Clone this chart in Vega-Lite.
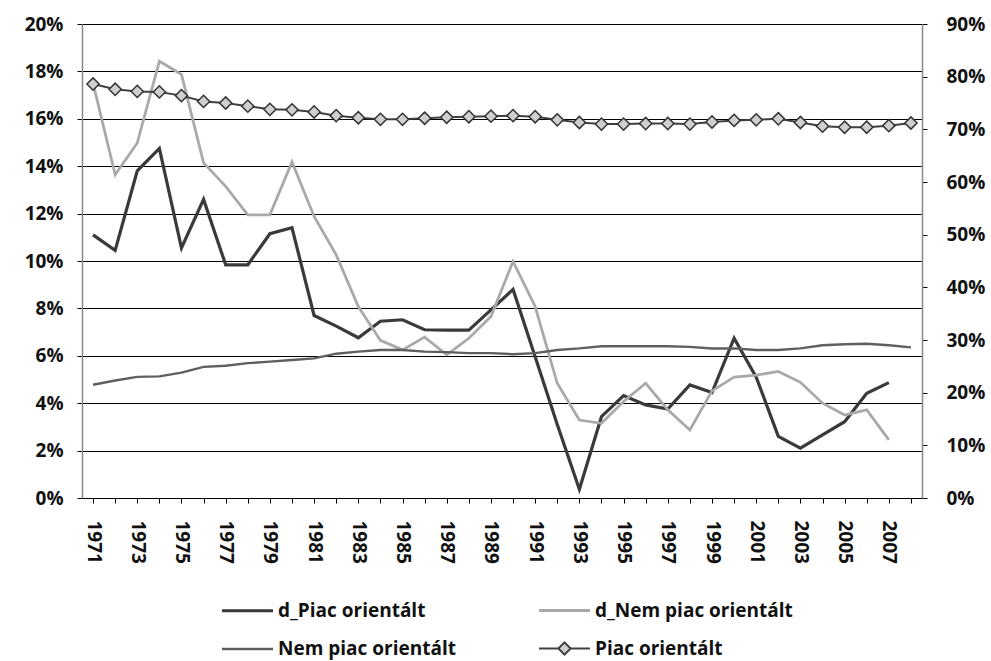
{
  "$schema": "https://vega.github.io/schema/vega-lite/v6.json",
  "width": 840,
  "height": 474,
  "autosize": {"type": "none"},
  "padding": {"left": 82, "top": 24, "right": 69, "bottom": 163},
  "background": "white",
  "config": {
    "view": {"stroke": null},
    "font": "Open Sans",
    "axis": {"labelFont": "Open Sans", "labelFontWeight": "bold", "labelFontSize": 19, "labelColor": "#111111"}
  },
  "datasets": {
    "diff": [
      {"year": 1971, "series": "d_Piac orientált", "value": 11.1},
      {"year": 1972, "series": "d_Piac orientált", "value": 10.45},
      {"year": 1973, "series": "d_Piac orientált", "value": 13.8},
      {"year": 1974, "series": "d_Piac orientált", "value": 14.75},
      {"year": 1975, "series": "d_Piac orientált", "value": 10.55},
      {"year": 1976, "series": "d_Piac orientált", "value": 12.6},
      {"year": 1977, "series": "d_Piac orientált", "value": 9.84},
      {"year": 1978, "series": "d_Piac orientált", "value": 9.84},
      {"year": 1979, "series": "d_Piac orientált", "value": 11.15},
      {"year": 1980, "series": "d_Piac orientált", "value": 11.4},
      {"year": 1981, "series": "d_Piac orientált", "value": 7.7},
      {"year": 1982, "series": "d_Piac orientált", "value": 7.25},
      {"year": 1983, "series": "d_Piac orientált", "value": 6.76},
      {"year": 1984, "series": "d_Piac orientált", "value": 7.46},
      {"year": 1985, "series": "d_Piac orientált", "value": 7.52},
      {"year": 1986, "series": "d_Piac orientált", "value": 7.1},
      {"year": 1987, "series": "d_Piac orientált", "value": 7.08},
      {"year": 1988, "series": "d_Piac orientált", "value": 7.08},
      {"year": 1989, "series": "d_Piac orientált", "value": 7.94},
      {"year": 1990, "series": "d_Piac orientált", "value": 8.8},
      {"year": 1991, "series": "d_Piac orientált", "value": 5.96},
      {"year": 1992, "series": "d_Piac orientált", "value": 3.1},
      {"year": 1993, "series": "d_Piac orientált", "value": 0.37},
      {"year": 1994, "series": "d_Piac orientált", "value": 3.43},
      {"year": 1995, "series": "d_Piac orientált", "value": 4.32},
      {"year": 1996, "series": "d_Piac orientált", "value": 3.93},
      {"year": 1997, "series": "d_Piac orientált", "value": 3.75},
      {"year": 1998, "series": "d_Piac orientált", "value": 4.77},
      {"year": 1999, "series": "d_Piac orientált", "value": 4.45},
      {"year": 2000, "series": "d_Piac orientált", "value": 6.74},
      {"year": 2001, "series": "d_Piac orientált", "value": 5.1},
      {"year": 2002, "series": "d_Piac orientált", "value": 2.6},
      {"year": 2003, "series": "d_Piac orientált", "value": 2.1},
      {"year": 2004, "series": "d_Piac orientált", "value": 2.66},
      {"year": 2005, "series": "d_Piac orientált", "value": 3.22},
      {"year": 2006, "series": "d_Piac orientált", "value": 4.42},
      {"year": 2007, "series": "d_Piac orientált", "value": 4.87},
      {"year": 1971, "series": "d_Nem piac orientált", "value": 17.5},
      {"year": 1972, "series": "d_Nem piac orientált", "value": 13.64},
      {"year": 1973, "series": "d_Nem piac orientált", "value": 14.98},
      {"year": 1974, "series": "d_Nem piac orientált", "value": 18.43},
      {"year": 1975, "series": "d_Nem piac orientált", "value": 17.87},
      {"year": 1976, "series": "d_Nem piac orientált", "value": 14.14},
      {"year": 1977, "series": "d_Nem piac orientált", "value": 13.15},
      {"year": 1978, "series": "d_Nem piac orientált", "value": 11.95},
      {"year": 1979, "series": "d_Nem piac orientált", "value": 11.95},
      {"year": 1980, "series": "d_Nem piac orientált", "value": 14.18},
      {"year": 1981, "series": "d_Nem piac orientált", "value": 11.88},
      {"year": 1982, "series": "d_Nem piac orientált", "value": 10.26},
      {"year": 1983, "series": "d_Nem piac orientált", "value": 8.08},
      {"year": 1984, "series": "d_Nem piac orientált", "value": 6.65},
      {"year": 1985, "series": "d_Nem piac orientált", "value": 6.25},
      {"year": 1986, "series": "d_Nem piac orientált", "value": 6.79},
      {"year": 1987, "series": "d_Nem piac orientált", "value": 6.04},
      {"year": 1988, "series": "d_Nem piac orientált", "value": 6.74},
      {"year": 1989, "series": "d_Nem piac orientált", "value": 7.66},
      {"year": 1990, "series": "d_Nem piac orientált", "value": 9.98},
      {"year": 1991, "series": "d_Nem piac orientált", "value": 8.08},
      {"year": 1992, "series": "d_Nem piac orientált", "value": 4.84},
      {"year": 1993, "series": "d_Nem piac orientált", "value": 3.29},
      {"year": 1994, "series": "d_Nem piac orientált", "value": 3.15},
      {"year": 1995, "series": "d_Nem piac orientált", "value": 4.07},
      {"year": 1996, "series": "d_Nem piac orientált", "value": 4.84},
      {"year": 1997, "series": "d_Nem piac orientált", "value": 3.72},
      {"year": 1998, "series": "d_Nem piac orientált", "value": 2.87},
      {"year": 1999, "series": "d_Nem piac orientált", "value": 4.52},
      {"year": 2000, "series": "d_Nem piac orientált", "value": 5.1},
      {"year": 2001, "series": "d_Nem piac orientált", "value": 5.18},
      {"year": 2002, "series": "d_Nem piac orientált", "value": 5.34},
      {"year": 2003, "series": "d_Nem piac orientált", "value": 4.88},
      {"year": 2004, "series": "d_Nem piac orientált", "value": 4.0},
      {"year": 2005, "series": "d_Nem piac orientált", "value": 3.5},
      {"year": 2006, "series": "d_Nem piac orientált", "value": 3.72},
      {"year": 2007, "series": "d_Nem piac orientált", "value": 2.45}
    ],
    "level": [
      {"year": 1971, "series": "Nem piac orientált", "value": 21.5},
      {"year": 1972, "series": "Nem piac orientált", "value": 22.3},
      {"year": 1973, "series": "Nem piac orientált", "value": 23.0},
      {"year": 1974, "series": "Nem piac orientált", "value": 23.1},
      {"year": 1975, "series": "Nem piac orientált", "value": 23.8},
      {"year": 1976, "series": "Nem piac orientált", "value": 24.9},
      {"year": 1977, "series": "Nem piac orientált", "value": 25.1},
      {"year": 1978, "series": "Nem piac orientált", "value": 25.6},
      {"year": 1979, "series": "Nem piac orientált", "value": 25.9},
      {"year": 1980, "series": "Nem piac orientált", "value": 26.2},
      {"year": 1981, "series": "Nem piac orientált", "value": 26.5},
      {"year": 1982, "series": "Nem piac orientált", "value": 27.4},
      {"year": 1983, "series": "Nem piac orientált", "value": 27.8},
      {"year": 1984, "series": "Nem piac orientált", "value": 28.1},
      {"year": 1985, "series": "Nem piac orientált", "value": 28.1},
      {"year": 1986, "series": "Nem piac orientált", "value": 27.8},
      {"year": 1987, "series": "Nem piac orientált", "value": 27.7},
      {"year": 1988, "series": "Nem piac orientált", "value": 27.5},
      {"year": 1989, "series": "Nem piac orientált", "value": 27.5},
      {"year": 1990, "series": "Nem piac orientált", "value": 27.3},
      {"year": 1991, "series": "Nem piac orientált", "value": 27.5},
      {"year": 1992, "series": "Nem piac orientált", "value": 28.1},
      {"year": 1993, "series": "Nem piac orientált", "value": 28.4},
      {"year": 1994, "series": "Nem piac orientált", "value": 28.8},
      {"year": 1995, "series": "Nem piac orientált", "value": 28.8},
      {"year": 1996, "series": "Nem piac orientált", "value": 28.8},
      {"year": 1997, "series": "Nem piac orientált", "value": 28.8},
      {"year": 1998, "series": "Nem piac orientált", "value": 28.7},
      {"year": 1999, "series": "Nem piac orientált", "value": 28.4},
      {"year": 2000, "series": "Nem piac orientált", "value": 28.4},
      {"year": 2001, "series": "Nem piac orientált", "value": 28.1},
      {"year": 2002, "series": "Nem piac orientált", "value": 28.1},
      {"year": 2003, "series": "Nem piac orientált", "value": 28.4},
      {"year": 2004, "series": "Nem piac orientált", "value": 29.0},
      {"year": 2005, "series": "Nem piac orientált", "value": 29.2},
      {"year": 2006, "series": "Nem piac orientált", "value": 29.3},
      {"year": 2007, "series": "Nem piac orientált", "value": 29.0},
      {"year": 2008, "series": "Nem piac orientált", "value": 28.6},
      {"year": 1971, "series": "Piac orientált", "value": 78.6},
      {"year": 1972, "series": "Piac orientált", "value": 77.6},
      {"year": 1973, "series": "Piac orientált", "value": 77.2},
      {"year": 1974, "series": "Piac orientált", "value": 77.1},
      {"year": 1975, "series": "Piac orientált", "value": 76.4},
      {"year": 1976, "series": "Piac orientált", "value": 75.3},
      {"year": 1977, "series": "Piac orientált", "value": 75.0},
      {"year": 1978, "series": "Piac orientált", "value": 74.4},
      {"year": 1979, "series": "Piac orientált", "value": 73.8},
      {"year": 1980, "series": "Piac orientált", "value": 73.7},
      {"year": 1981, "series": "Piac orientált", "value": 73.3},
      {"year": 1982, "series": "Piac orientált", "value": 72.6},
      {"year": 1983, "series": "Piac orientált", "value": 72.2},
      {"year": 1984, "series": "Piac orientált", "value": 71.9},
      {"year": 1985, "series": "Piac orientált", "value": 71.9},
      {"year": 1986, "series": "Piac orientált", "value": 72.1},
      {"year": 1987, "series": "Piac orientált", "value": 72.3},
      {"year": 1988, "series": "Piac orientált", "value": 72.4},
      {"year": 1989, "series": "Piac orientált", "value": 72.5},
      {"year": 1990, "series": "Piac orientált", "value": 72.6},
      {"year": 1991, "series": "Piac orientált", "value": 72.4},
      {"year": 1992, "series": "Piac orientált", "value": 71.8},
      {"year": 1993, "series": "Piac orientált", "value": 71.3},
      {"year": 1994, "series": "Piac orientált", "value": 71.0},
      {"year": 1995, "series": "Piac orientált", "value": 71.0},
      {"year": 1996, "series": "Piac orientált", "value": 71.1},
      {"year": 1997, "series": "Piac orientált", "value": 71.1},
      {"year": 1998, "series": "Piac orientált", "value": 71.0},
      {"year": 1999, "series": "Piac orientált", "value": 71.4},
      {"year": 2000, "series": "Piac orientált", "value": 71.7},
      {"year": 2001, "series": "Piac orientált", "value": 71.8},
      {"year": 2002, "series": "Piac orientált", "value": 72.0},
      {"year": 2003, "series": "Piac orientált", "value": 71.3},
      {"year": 2004, "series": "Piac orientált", "value": 70.6},
      {"year": 2005, "series": "Piac orientált", "value": 70.4},
      {"year": 2006, "series": "Piac orientált", "value": 70.4},
      {"year": 2007, "series": "Piac orientált", "value": 70.7},
      {"year": 2008, "series": "Piac orientált", "value": 71.2}
    ]
  },
  "encoding": {
    "x": {
      "field": "year", "type": "ordinal",
      "scale": {"type": "point", "padding": 0.5, "domain": [1971,1972,1973,1974,1975,1976,1977,1978,1979,1980,1981,1982,1983,1984,1985,1986,1987,1988,1989,1990,1991,1992,1993,1994,1995,1996,1997,1998,1999,2000,2001,2002,2003,2004,2005,2006,2007,2008]},
      "axis": {
        "title": null, "labelAngle": 90, "labelOverlap": false,
        "labelExpr": "datum.value % 2 == 1 ? datum.label : ''",
        "domainColor": "#000000", "domainWidth": 1.2, "tickColor": "#000000", "tickSize": 5,
        "labelPadding": 17, "grid": false
      }
    }
  },
  "layer": [
    {
      "data": {"name": "diff"},
      "mark": {"type": "line", "strokeJoin": "miter"},
      "encoding": {
        "y": {
          "field": "value", "type": "quantitative",
          "scale": {"domain": [0, 20], "nice": false},
          "axis": {
            "title": null, "orient": "left", "values": [0,2,4,6,8,10,12,14,16,18,20],
            "labelExpr": "datum.value + '%'", "grid": true, "gridColor": "#000000", "gridWidth": 1,
            "domainColor": "#888888", "domainWidth": 1.5, "tickColor": "#000000", "tickSize": 5, "labelPadding": 14
          }
        },
        "color": {
          "field": "series", "type": "nominal",
          "scale": {"domain": ["d_Piac orientált", "d_Nem piac orientált", "Nem piac orientált", "Piac orientált"], "range": ["#3a3a3a", "#a9a9a9", "#5f5f5f", "#404040"]},
          "legend": {
            "title": null, "orient": "none", "legendX": 138, "legendY": 559, "columns": 2, "direction": "horizontal",
            "symbolType": "stroke", "symbolSize": 2600, "symbolStrokeWidth": 3.5, "labelFont": "Open Sans",
            "labelFontSize": 19, "labelFontWeight": "bold", "labelColor": "#111111", "labelOffset": 3, "labelLimit": 400,
            "gridAlign": "all", "columnPadding": 57, "rowPadding": 1,
            "encode": {
              "symbols": {
                "update": {
                  "shape": {"signal": "datum.label == 'Piac orientált' ? 'M-1,0L-0.24,0M0.24,0L1,0M-0.24,0L0,-0.24L0.24,0L0,0.24Z' : 'stroke'"},
                  "fill": {"signal": "datum.label == 'Piac orientált' ? '#cfcfcf' : 'transparent'"}
                }
              }
            }
          }
        },
        "strokeWidth": {
          "field": "series", "type": "nominal",
          "scale": {"domain": ["d_Piac orientált", "d_Nem piac orientált", "Nem piac orientált", "Piac orientált"], "range": [3.2, 2, 3.5, 2.5]},
          "legend": null
        }
      }
    },
    {
      "data": {"name": "level"},
      "encoding": {
        "y": {
          "field": "value", "type": "quantitative",
          "scale": {"domain": [0, 90], "nice": false},
          "axis": {
            "title": null, "orient": "right", "values": [0,10,20,30,40,50,60,70,80,90],
            "labelExpr": "datum.value + '%'", "grid": false,
            "domainColor": "#888888", "domainWidth": 1.5, "tickColor": "#000000", "tickSize": 5, "labelPadding": 19
          }
        }
      },
      "layer": [
        {
          "mark": {"type": "line", "strokeJoin": "miter"},
          "encoding": {
            "color": {"field": "series", "type": "nominal"},
            "strokeWidth": {"field": "series", "type": "nominal"}
          }
        },
        {
          "transform": [{"filter": "datum.series == 'Piac orientált'"}],
          "mark": {"type": "point", "shape": "diamond", "filled": true, "fill": "#cfcfcf", "stroke": "#333333", "strokeWidth": 1.5, "size": 150, "opacity": 1},
          "encoding": {}
        }
      ]
    }
  ],
  "resolve": {"scale": {"y": "independent"}}
}
